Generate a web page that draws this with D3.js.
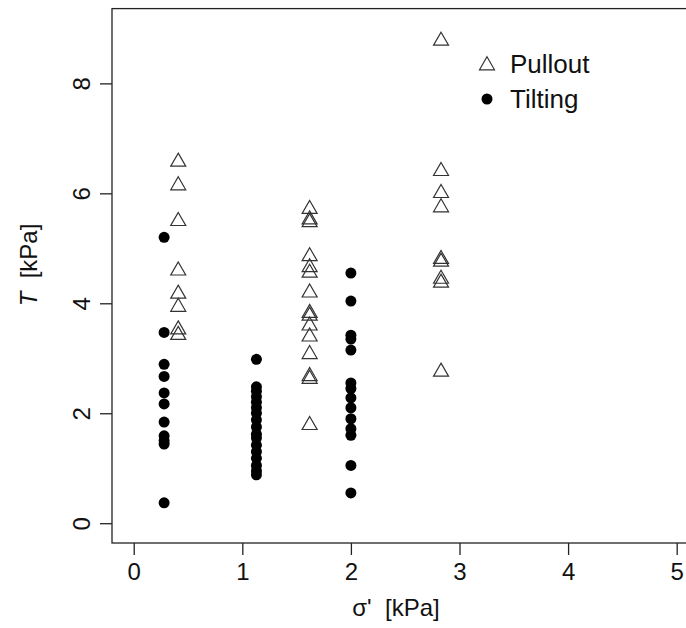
<!DOCTYPE html>
<html lang="en">
<head>
    <meta charset="UTF-8">
    <title>T vs sigma'</title>
    <script src="https://d3js.org/d3.v7.min.js"></script>
    <style>
        html, body { margin: 0; padding: 0; background: #fff; }
        svg { display: block; font-family: "Liberation Sans", Arial, sans-serif; }
    </style>
</head>
<body>
    <script>
        // Pullout tests (open triangles)
        const pulloutX = [0.41, 1.62, 2.83];
        const pulloutY = [
            [6.60, 6.17, 5.52, 4.62, 4.20, 3.96, 3.55, 3.45],
            [5.74, 5.55, 5.50, 4.88, 4.68, 4.58, 4.22, 3.85, 3.80, 3.62, 3.42, 3.10, 2.70, 2.65, 1.81],
            [8.80, 6.43, 6.03, 5.77, 4.83, 4.78, 4.47, 4.40, 2.78]
        ];
        // Tilting tests (filled circles)
        const tiltingX = [0.28, 1.13, 2.0];
        const tiltingY = [
            [5.20, 3.47, 2.89, 2.67, 2.37, 2.17, 1.84, 1.59, 1.50, 1.44, 0.37],
            [2.98, 2.48, 2.40, 2.30, 2.20, 2.10, 2.00, 1.88, 1.75, 1.62, 1.55, 1.42, 1.30, 1.18, 1.05, 0.95, 0.88],
            [4.55, 4.04, 3.42, 3.35, 3.15, 2.55, 2.45, 2.28, 2.10, 1.90, 1.72, 1.60, 1.05, 0.55]
        ];
        const xTicks = [0, 1, 2, 3, 4, 5];
        const yTicks = [0, 2, 4, 6, 8];
        const legendLabels = ["Pullout", "Tilting"];

        const width = 686, height = 628;
        const axisColor = "#222";

        const svg = d3.select("body").append("svg")
            .attr("width", width)
            .attr("height", height);

        // R-style 4% padded limits
        const x = d3.scaleLinear().domain([-0.2, 5.2]).range([112, 698.4]);
        const y = d3.scaleLinear().domain([-0.36, 9.36]).range([543, 8.6]);

        // triangle path (pch = 2), nudged down a bit like R draws it
        const tri = "M0,-7.2L7.5,5.8L-7.5,5.8Z";

        // flatten groups into points
        const pullout = pulloutX.flatMap((gx, i) => pulloutY[i].map(v => ({x: gx, y: v})));
        const tilting = tiltingX.flatMap((gx, i) => tiltingY[i].map(v => ({x: gx, y: v})));

        // box
        svg.append("rect")
            .attr("x", x(-0.2)).attr("y", y(9.36))
            .attr("width", x(5.2) - x(-0.2)).attr("height", y(-0.36) - y(9.36))
            .attr("fill", "none").attr("stroke", axisColor).attr("stroke-width", 1.3);

        // x axis
        const xAxis = svg.append("g")
            .attr("transform", `translate(0,${y(-0.36)})`)
            .call(d3.axisBottom(x).tickValues(xTicks).tickSize(12).tickPadding(8).tickFormat(d3.format("d")));
        xAxis.select(".domain").remove();
        xAxis.selectAll("line").attr("stroke", axisColor).attr("stroke-width", 1.3);
        xAxis.selectAll("text").attr("font-size", 24).attr("fill", "#111")
            .attr("font-family", "Liberation Sans, Arial, sans-serif");

        // y axis
        const yAxis = svg.append("g")
            .attr("transform", `translate(${x(-0.2)},0)`)
            .call(d3.axisLeft(y).tickValues(yTicks).tickSize(12).tickFormat(d3.format("d")));
        yAxis.select(".domain").remove();
        yAxis.selectAll("line").attr("stroke", axisColor).attr("stroke-width", 1.3);
        yAxis.selectAll("text")
            .attr("font-size", 24).attr("fill", "#111")
            .attr("font-family", "Liberation Sans, Arial, sans-serif")
            .attr("text-anchor", "middle")
            .attr("x", null)
            .attr("transform", "translate(-31,0) rotate(-90)")
            .attr("dy", "0.36em");

        // axis titles
        svg.append("text")
            .attr("x", 396).attr("y", 616)
            .attr("text-anchor", "middle").attr("font-size", 24).attr("fill", "#111")
            .text("σ'\u00a0\u00a0[kPa]");

        const yTitle = svg.append("text")
            .attr("transform", "translate(37,265) rotate(-90)")
            .attr("text-anchor", "middle").attr("font-size", 24).attr("fill", "#111");
        yTitle.append("tspan").attr("font-style", "italic").text("T");
        yTitle.append("tspan").text("\u00a0\u00a0[kPa]");

        // points
        svg.append("g").selectAll("path")
            .data(pullout)
            .join("path")
            .attr("d", tri)
            .attr("transform", d => `translate(${x(d.x)},${y(d.y)})`)
            .attr("fill", "none").attr("stroke", "#333").attr("stroke-width", 1.2);

        svg.append("g").selectAll("circle")
            .data(tilting)
            .join("circle")
            .attr("cx", d => x(d.x)).attr("cy", d => y(d.y))
            .attr("r", 5.5).attr("fill", "#000");

        // legend
        const legend = svg.append("g").attr("transform", "translate(487,64)");
        legend.append("path").attr("d", tri)
            .attr("fill", "none").attr("stroke", "#333").attr("stroke-width", 1.2);
        legend.append("circle").attr("cx", 0).attr("cy", 35).attr("r", 5.5).attr("fill", "#000");
        legend.selectAll("text")
            .data(legendLabels)
            .join("text")
            .attr("x", 23).attr("y", (d, i) => i * 35)
            .attr("dy", "0.36em")
            .attr("font-size", 26).attr("fill", "#111")
            .text(d => d);
    </script>
</body>
</html>
